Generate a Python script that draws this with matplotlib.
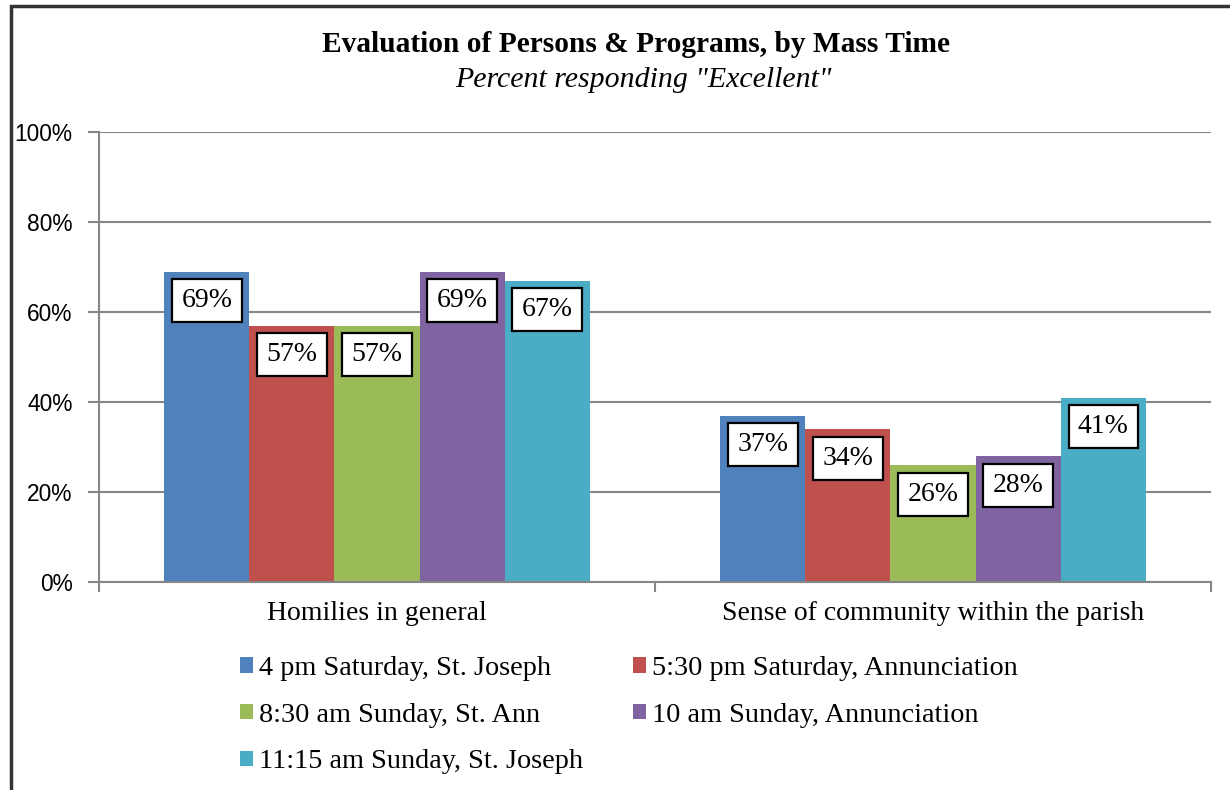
import numpy as np
import matplotlib.pyplot as plt
from matplotlib.patches import Rectangle

categories = ["Homilies in general", "Sense of community within the parish"]
series_names = [
    "4 pm Saturday, St. Joseph",
    "5:30 pm Saturday, Annunciation",
    "8:30 am Sunday, St. Ann",
    "10 am Sunday, Annunciation",
    "11:15 am Sunday, St. Joseph",
]
values = [
    [69, 37],
    [57, 34],
    [57, 26],
    [69, 28],
    [67, 41],
]
colors = ["#4F81BD", "#C0504D", "#9BBB59", "#8064A2", "#4BACC6"]
yticks = [0, 20, 40, 60, 80, 100]

serif = "Liberation Serif"
sans = "Liberation Sans"

fig = plt.figure(figsize=(12.3, 7.9), dpi=100)
ax = fig.add_axes([99 / 1230, 208 / 790, 1112 / 1230, 450 / 790])

x = np.arange(len(categories))
width = 0.153
handles = []
for i, (name, vals) in enumerate(zip(series_names, values)):
    pos = x + (i - 2) * width
    bars = ax.bar(pos, vals, width=width, color=colors[i], label=name, zorder=2)
    handles.append(bars)
    for p, v in zip(pos, vals):
        ax.annotate(f"{v}%", xy=(p, v), xytext=(0, -21), textcoords="offset points",
                    ha="center", va="center", fontsize=20, family=serif, zorder=4,
                    bbox=dict(boxstyle="square,pad=0.33", fc="white", ec="black", lw=1.6))

ax.set_xlim(-0.5, 1.5)
ax.set_ylim(0, 100)
ax.set_yticks(yticks)
ax.set_yticklabels([f"{t}%" for t in yticks], family=sans, fontsize=16.4)
ax.yaxis.grid(True, color="#868686", lw=1.5, zorder=0)
ax.set_axisbelow(True)

# category boundaries as tick marks, labels at the centers
ax.set_xticks([-0.5, 0.5, 1.5])
ax.set_xticklabels([])
ax.set_xticks(x, minor=True)
ax.set_xticklabels(categories, minor=True, family=serif, fontsize=20)
ax.tick_params(axis="x", which="minor", length=0, pad=14)
ax.tick_params(axis="x", which="major", length=7, width=1.5, color="#868686")
ax.tick_params(axis="y", length=8, width=1.5, color="#868686", pad=11)

for side in ["top", "right"]:
    ax.spines[side].set_visible(False)
for side in ["left", "bottom"]:
    ax.spines[side].set_color("#868686")
    ax.spines[side].set_linewidth(1.5)

fig.text(636, 790 - 45, "Evaluation of Persons & Programs, by Mass Time", transform=None,
         ha="center", va="center", family=serif, fontsize=21.2, fontweight="bold")
fig.text(643, 790 - 80, 'Percent responding "Excellent"', transform=None,
         ha="center", va="center", family=serif, fontsize=21.5, style="italic")

order = [0, 2, 4, 1, 3]
leg = fig.legend([handles[k] for k in order], [series_names[k] for k in order],
                 ncol=2, loc="upper left", bbox_to_anchor=(240 / 1230, 1 - 656 / 790),
                 frameon=False, prop={"family": serif, "size": 20.3},
                 handlelength=0.47, handleheight=0.47, handletextpad=0.22,
                 columnspacing=1.75, labelspacing=0.77, borderpad=0, borderaxespad=0)

# outer chart frame
fig.patches.append(Rectangle((11, -20), 1260, 790 - 6 + 20, transform=None,
                             fill=False, ec="#333333", lw=2.5))

fig.savefig("out.png", dpi=100)
